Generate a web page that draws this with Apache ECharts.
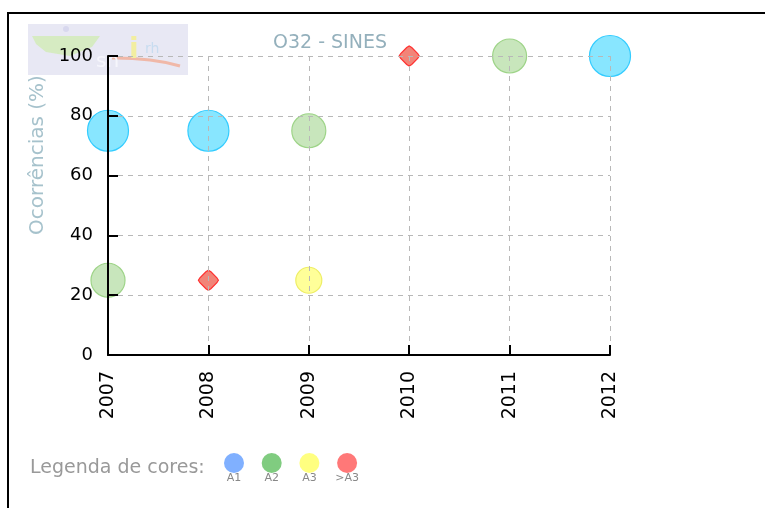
<!DOCTYPE html>
<html>
<head>
<meta charset="utf-8">
<script src="https://cdn.jsdelivr.net/npm/echarts@6/dist/echarts.min.js"></script>
<style>html,body{margin:0;padding:0;background:#fff;}#c{width:765px;height:508px;}</style>
</head>
<body>
<div id="c"></div>
<script>
const categories = ['2007', '2008', '2009', '2010', '2011', '2012'];
const yTicks = [0, 20, 40, 60, 80, 100];
const seriesA1 = [['2007', 75], ['2008', 75], ['2012', 100]];
const seriesA2 = [['2007', 25], ['2009', 75], ['2011', 100]];
const seriesA3 = [['2009', 25]];
const seriesGtA3 = [['2008', 25], ['2010', 100]];
const legendLabels = ['A1', 'A2', 'A3', '>A3'];
const legendColors = ['#80b0ff', '#80cc80', '#ffff80', '#ff7878'];

const chart = echarts.init(document.getElementById('c'), null, {renderer: 'canvas'});
const F = 'DejaVu Sans';
const roundDiamond = 'path://M10,0 L12.5,1.5 L18.5,7.5 L20,10 L18.5,12.5 L12.5,18.5 L10,20 L7.5,18.5 L1.5,12.5 L0,10 L1.5,7.5 L7.5,1.5 Z';

function mk(name, data, size, fill, stroke, symbol) {
  return {
    name: name, type: 'scatter', data: data, symbol: symbol || 'circle', symbolSize: size,
    z: 1, clip: false,
    itemStyle: {color: fill, borderColor: stroke, borderWidth: 1.2, opacity: 1}
  };
}

const legendGraphics = [];
legendLabels.forEach(function (lab, i) {
  const cx = 234 + i * 37.7;
  legendGraphics.push({type: 'circle', shape: {cx: cx, cy: 463, r: 10}, style: {fill: legendColors[i]}});
  legendGraphics.push({type: 'text', x: cx, y: 473, style: {text: lab, fill: '#888', font: '11px ' + F, align: 'center', verticalAlign: 'top'}});
});

chart.setOption({
  animation: false,
  backgroundColor: '#fff',
  title: {
    text: 'O32 - SINES', left: 325, top: 29, textAlign: 'center',
    textStyle: {color: '#94b0bc', fontFamily: F, fontSize: 19, fontWeight: 'normal'}
  },
  grid: {left: 108, right: 155, top: 56, bottom: 153, containLabel: false},
  xAxis: {
    type: 'category', data: categories, boundaryGap: false, z: 3,
    axisLine: {lineStyle: {color: '#000', width: 2}},
    axisTick: {inside: true, length: 10, lineStyle: {color: '#000', width: 2}},
    axisLabel: {rotate: 90, margin: 16, color: '#000', fontFamily: F, fontSize: 19},
    splitLine: {show: true, lineStyle: {color: '#b8b8b8', type: [5, 5], width: 1}}
  },
  yAxis: {
    type: 'value', min: yTicks[0], max: yTicks[yTicks.length - 1], interval: 20, z: 3,
    axisLine: {show: true, lineStyle: {color: '#000', width: 2}},
    axisTick: {show: true, inside: true, length: 10, lineStyle: {color: '#000', width: 2}},
    axisLabel: {margin: 15, color: '#000', fontFamily: F, fontSize: 18},
    splitLine: {show: true, lineStyle: {color: '#b8b8b8', type: [5, 5], width: 1}}
  },
  series: [
    mk('A1', seriesA1, 41, '#88e6ff', '#33ccff'),
    mk('A2', seriesA2, 34, '#c8e6bc', '#9ed488'),
    mk('A3', seriesA3, 26, '#ffff99', '#eeee66'),
    mk('>A3', seriesGtA3, 20, '#f28478', '#ff3030', roundDiamond)
  ],
  graphic: [
    {type: 'rect', z: 0, shape: {x: 8, y: 13, width: 800, height: 600}, style: {fill: 'none', stroke: '#000', lineWidth: 2}},
    {type: 'text', x: 38, y: 155, rotation: Math.PI / 2, style: {text: 'Ocorrências (%)', fill: '#a6c2cc', font: '20px ' + F, align: 'center', verticalAlign: 'middle'}},
    {type: 'rect', z: 0, shape: {x: 28, y: 24, width: 160, height: 51}, style: {fill: '#e7e7f3', opacity: 0.95}},
    {type: 'polygon', z: 0, shape: {points: [[32, 36], [100, 36], [92, 47], [70, 56], [46, 52], [36, 44]]}, style: {fill: '#d6ebc2'}},
    {type: 'circle', z: 0, shape: {cx: 66, cy: 29, r: 3}, style: {fill: '#d8d8ee'}},
    {type: 'polyline', z: 0, shape: {points: [[112, 58], [150, 60], [180, 66]], smooth: 0.5}, style: {stroke: '#f0b8a8', lineWidth: 3, fill: 'none'}},
    {type: 'text', z: 0, x: 96, y: 52, style: {text: 'sn', fill: '#f6f6fc', font: '20px ' + F}},
    {type: 'text', z: 0, x: 129, y: 37, style: {text: 'i', fill: '#f2eea0', font: 'bold 28px ' + F}},
    {type: 'text', z: 0, x: 145, y: 42, style: {text: 'rh', fill: '#c8dcf0', font: '14px ' + F}},
    {type: 'text', x: 30, y: 468, style: {text: 'Legenda de cores:', fill: '#999', font: '19px ' + F, verticalAlign: 'middle'}}
  ].concat(legendGraphics)
});
</script>
</body>
</html>
